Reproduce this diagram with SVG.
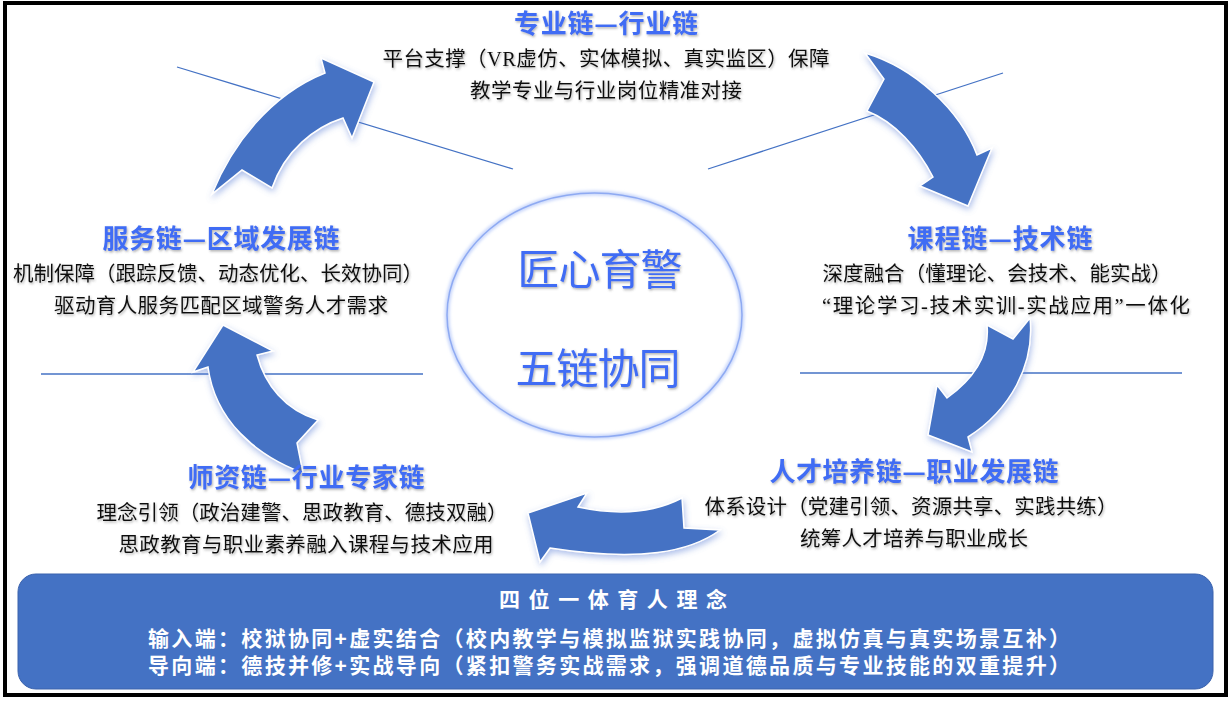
<svg xmlns="http://www.w3.org/2000/svg" width="1232" height="701" viewBox="0 0 1232 701">
<defs>
<filter id="glow" x="-20%" y="-20%" width="140%" height="140%">
<feGaussianBlur in="SourceAlpha" stdDeviation="3"/>
<feOffset dx="1" dy="3" result="b"/>
<feFlood flood-color="#5b7fd6" flood-opacity="0.5"/>
<feComposite in2="b" operator="in"/>
<feMerge><feMergeNode/><feMergeNode in="SourceGraphic"/></feMerge>
</filter>
<filter id="tshadow" x="-5%" y="-20%" width="110%" height="140%">
<feDropShadow dx="1" dy="1.5" stdDeviation="0.8" flood-color="#555" flood-opacity="0.45"/>
</filter>
<filter id="ringglow" x="-10%" y="-10%" width="120%" height="120%">
<feGaussianBlur stdDeviation="1.5"/>
</filter>
</defs>
<style>
.arrow{fill:#4472C4;stroke:#ffffff;stroke-width:1.5;stroke-linejoin:miter;filter:url(#glow)}
.ln{stroke:#4472C4;stroke-width:1.3;fill:none}
.hd{font-family:"Noto Sans CJK SC","Noto Sans",sans-serif;font-weight:bold;font-size:26px;fill:#3F6CF4;text-anchor:middle;filter:url(#tshadow)}
.bd{font-family:"Liberation Serif","Noto Sans CJK SC",serif;font-size:20.5px;fill:#111;text-anchor:middle;filter:url(#tshadow)}
.ctr{font-family:"Noto Sans CJK SC","Noto Sans",sans-serif;font-size:42px;fill:#3F6CF4;text-anchor:middle;filter:url(#tshadow)}
.bt{font-family:"Liberation Sans","Noto Sans CJK SC",sans-serif;font-weight:bold;fill:#ffffff;text-anchor:middle}
</style>
<rect x="0" y="0" width="1232" height="701" fill="#ffffff"/>
<rect x="5" y="3" width="1221" height="692" fill="none" stroke="#000" stroke-width="4"/>

<g id="connectors">
<line class="ln" x1="177" y1="67" x2="513" y2="169"/>
<line class="ln" x1="708" y1="169" x2="1003" y2="73"/>
<line class="ln" x1="41" y1="374" x2="423" y2="374"/>
<line class="ln" x1="800" y1="373" x2="1182" y2="373"/>
<path class="arrow" d="M212,194 C232,145 270,95 325,73 L321,58 L374,82 L352,138 L343,118 C315,127 285,150 272,188 L242,170 Z"/>
<path class="arrow" d="M865,53 C915,68 960,110 977,155 L992,148 L968,206 L920,186 L933,177 C918,148 895,122 867,111 L884,79 Z"/>
<path class="arrow" d="M1030,318 C1035,365 1010,410 968,437 L972,452 L928,435 L937,385 L947,398 C975,378 990,355 987,325 L1013,339 Z"/>
<path class="arrow" d="M720,530 C690,552 640,562 550,548 L540,562 L528,513 L587,493 L578,507 C620,516 655,512 682,498 L684,528 Z"/>
<path class="arrow" d="M257,355 C265,385 285,410 318,420 L297,443 L303,473 C255,455 215,420 208,367 L193,372 L223,325 L273,351 Z"/>
</g>

<g id="center">
<ellipse cx="594.5" cy="315" rx="147.5" ry="122" fill="none" stroke="#c9d7fb" stroke-width="5" filter="url(#ringglow)"/>
<ellipse cx="594.5" cy="315" rx="147.5" ry="122" fill="none" stroke="#8eaaf2" stroke-width="1.5"/>
<text class="ctr" x="600" y="285" textLength="165">匠心育警</text>
<text class="ctr" x="598" y="384" textLength="165">五链协同</text>
</g>

<g id="node-top">
<text class="hd" x="606" y="33" textLength="184">专业链—行业链</text>
<text class="bd" x="606" y="66" textLength="447">平台支撑（VR虚仿、实体模拟、真实监区）保障</text>
<text class="bd" x="606" y="98" textLength="272">教学专业与行业岗位精准对接</text>
</g>

<g id="node-right">
<text class="hd" x="1000" y="248" textLength="185">课程链—技术链</text>
<text class="bd" x="997" y="281" textLength="349">深度融合（懂理论、会技术、能实战）</text>
<text class="bd" x="1006" y="313" textLength="368">“理论学习-技术实训-实战应用”一体化</text>
</g>

<g id="node-bottom-right">
<text class="hd" x="914" y="481" textLength="289">人才培养链—职业发展链</text>
<text class="bd" x="911" y="514" textLength="413">体系设计（党建引领、资源共享、实践共练）</text>
<text class="bd" x="914" y="546" textLength="228">统筹人才培养与职业成长</text>
</g>

<g id="node-bottom-left">
<text class="hd" x="306" y="487" textLength="237">师资链—行业专家链</text>
<text class="bd" x="302" y="520" textLength="411">理念引领（政治建警、思政教育、德技双融）</text>
<text class="bd" x="306" y="552" textLength="375">思政教育与职业素养融入课程与技术应用</text>
</g>

<g id="node-left">
<text class="hd" x="221" y="248" textLength="237">服务链—区域发展链</text>
<text class="bd" x="218" y="281" textLength="410">机制保障（跟踪反馈、动态优化、长效协同）</text>
<text class="bd" x="221" y="313" textLength="334">驱动育人服务匹配区域警务人才需求</text>
</g>

<g id="bottom-box">
<rect x="18" y="574" width="1195" height="115" rx="18" ry="18" fill="#4472C4" stroke="#3a62ad" stroke-width="1"/>
<text class="bt" x="613" y="607" font-size="21" textLength="228">四 位 一 体 育 人 理 念</text>
<text class="bt" x="609" y="646" font-size="21" textLength="922">输入端：校狱协同+虚实结合（校内教学与模拟监狱实践协同，虚拟仿真与真实场景互补）</text>
<text class="bt" x="609" y="673" font-size="21" textLength="922">导向端：德技并修+实战导向（紧扣警务实战需求，强调道德品质与专业技能的双重提升）</text>
</g>
</svg>
